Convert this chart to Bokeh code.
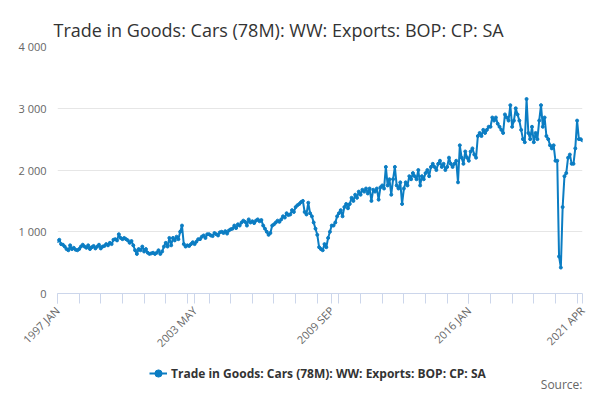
from bokeh.plotting import figure
from bokeh.layouts import column
from bokeh.models import FixedTicker, Legend, LegendItem, Label
from bokeh.embed import file_html
from bokeh.resources import INLINE

v1997 = [850,870,800,790,760,720,700,780,720,740,710,700]
v1998 = [720,760,790,760,740,780,720,750,770,730,760,790]
v1999 = [730,760,770,800,780,820,800,870,880,860,960,900]
v2000 = [880,900,880,860,820,850,780,700,640,720,700,760]
v2001 = [680,720,660,640,650,660,640,660,700,640,680,760]
v2002 = [820,760,900,780,900,860,920,880,1000,1100,800,760]
v2003 = [780,770,800,830,800,840,880,880,920,940,900,960]
v2004 = [960,940,930,980,960,940,990,1000,980,1010,970,1020]
v2005 = [1040,1050,1100,1060,1120,1100,1150,1180,1160,1100,1200,1150]
v2006 = [1170,1140,1180,1200,1170,1190,1100,1050,1000,950,980,1100]
v2007 = [1120,1150,1180,1160,1200,1250,1230,1300,1270,1280,1350,1320]
v2008 = [1400,1430,1450,1480,1500,1320,1280,1470,1300,1250,1150,1050]
v2009 = [950,750,720,700,800,750,900,1000,1100,1100,1150,1250]
v2010 = [1300,1350,1250,1400,1450,1380,1450,1550,1500,1600,1550,1650]
v2011 = [1600,1680,1650,1700,1620,1700,1500,1680,1650,1700,1520,1720]
v2012 = [1750,1700,2050,1750,1850,1600,1850,2050,1750,1700,1800,1450]
v2013 = [1700,1800,1750,1900,1850,1950,1900,1850,2000,1750,1900,1850]
v2014 = [1950,2000,1900,2050,2100,2050,2000,2100,2150,2050,2100,2000]
v2015 = [2050,2200,2100,2050,2100,2150,1800,2400,2200,2100,2300,2200]
v2016 = [2150,2300,2350,2250,2200,2550,2600,2550,2650,2600,2650,2700]
v2017 = [2700,2850,2800,2850,2750,2700,2650,2600,2900,2850,2800,3050]
v2018 = [2700,2800,3000,2900,2800,2650,2500,2450,3150,2600,2500,2700]
v2019 = [2450,2600,2500,2800,3050,2700,2850,2550,2500,2400,2350,2400]
v2020 = [2150,2150,600,420,1400,1900,1950,2200,2250,2100,2100,2350]
v2021 = [2800,2500,2500,2480]

values = (v1997+v1998+v1999+v2000+v2001+v2002+v2003+v2004+v2005+v2006+v2007+v2008+
          v2009+v2010+v2011+v2012+v2013+v2014+v2015+v2016+v2017+v2018+v2019+v2020+v2021)
months = list(range(len(values)))
tick_pos = [0, 76, 152, 228, 291]
tick_labels = ["1997 JAN", "2003 MAY", "2009 SEP", "2016 JAN", "2021 APR"]
series = "Trade in Goods: Cars (78M): WW: Exports: BOP: CP: SA"
color = "#0b7dc3"
nan = float("nan")

p = figure(width=592, height=358, output_backend="svg", toolbar_location=None,
           x_range=(0, 291), y_range=(0, 4000),
           min_border_left=57, min_border_right=9, min_border_bottom=59, min_border_top=46)
p.title.text = "Trade in Goods: Cars (78M): WW: Exports: BOP: CP: SA"
p.title.text_font = "Open Sans"
p.title.text_font_size = "18px"
p.title.text_font_style = "normal"
p.title.text_color = "#333333"
p.title.offset = -4

p.line(months, values, color=color, line_width=2)
p.scatter(months, values, color=color, size=3)

p.xaxis.ticker = FixedTicker(ticks=tick_pos, minor_ticks=list(range(0, 292, 12)))
p.xaxis.major_label_overrides = {k: t for k, t in zip(tick_pos, tick_labels)}
p.xaxis.major_label_orientation = 0.785
p.yaxis.ticker = FixedTicker(ticks=[0, 1000, 2000, 3000, 4000])
p.yaxis.major_label_overrides = {0: "0", 1000: "1 000", 2000: "2 000", 3000: "3 000", 4000: "4 000"}
for ax in (p.xaxis, p.yaxis):
    ax.major_label_text_font = "Open Sans"
    ax.major_label_text_font_size = "11px"
    ax.major_label_text_color = "#666666"
p.yaxis.axis_line_color = None
p.yaxis.major_tick_line_color = None
p.yaxis.minor_tick_line_color = None
p.xaxis.axis_line_color = "#ccd6eb"
p.xaxis.major_tick_line_color = "#ccd6eb"
p.xaxis.minor_tick_line_color = "#ccd6eb"
p.xaxis.major_tick_out = 10
p.xaxis.minor_tick_out = 10
p.xaxis.major_tick_in = 0
p.xaxis.minor_tick_in = 0
p.xgrid.grid_line_color = None
p.ygrid.grid_line_color = "#e6e6e6"
p.outline_line_color = None

f = figure(width=592, height=34, output_backend="svg", toolbar_location=None,
           x_range=(0, 1), y_range=(0, 1), min_border_left=0, min_border_right=10,
           min_border_top=0, min_border_bottom=0)
f.axis.visible = False
f.grid.visible = False
f.outline_line_color = None
l1 = f.line([nan], [nan], color=color, line_width=2)
l2 = f.scatter([nan], [nan], color=color, size=5)
legend = Legend(items=[LegendItem(label=series, renderers=[l1, l2])],
                location=(92, 9), orientation="horizontal", border_line_color=None,
                background_fill_alpha=0, padding=0, margin=0, glyph_width=18, label_standoff=4,
                label_text_font="Open Sans", label_text_font_size="12px",
                label_text_font_style="bold", label_text_color="#333333")
f.add_layout(legend, "center")
f.add_layout(Label(x=1, y=0, y_units="screen", text="Source:", text_align="right",
                   text_font="Open Sans", text_font_size="12px", text_color="#666666"))

open("out.html", "w").write(file_html(column(p, f, spacing=0), INLINE))
